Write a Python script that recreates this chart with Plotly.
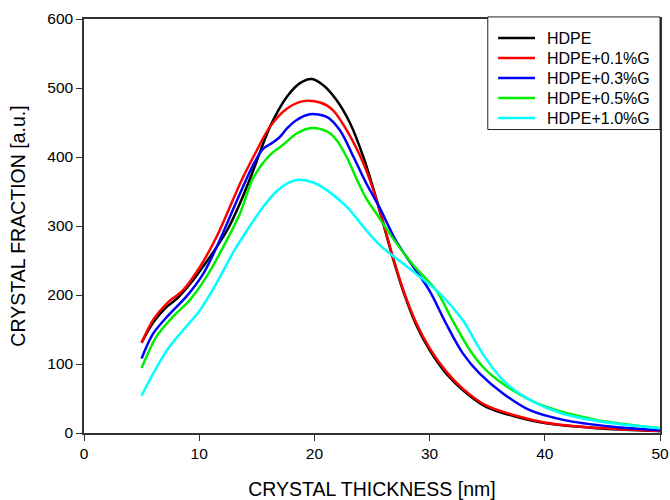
import plotly.graph_objects as go

# Data
hdpe_x = [5, 6.0, 7.0, 8.2, 9.5, 10.5, 11.5, 12.5, 13.54, 14.7, 16.15, 17.6, 18.75, 19.77, 20.77, 21.9, 23.1, 24.25, 25.4, 26.8, 27.7, 28.8, 30.0, 31.45, 32.9, 34.9, 37.5, 40.1, 44.5, 50]
hdpe_y = [131, 160, 180, 197, 222, 245, 269, 296, 333, 381, 444, 487, 507, 513, 504, 483, 449, 400, 338, 254, 206, 158, 120, 86, 62, 38, 23.5, 14, 7, 3]

g01_x = [5, 6.0, 7.2, 8.6, 10.07, 11.5, 12.67, 13.7, 14.7, 16.15, 17.6, 19.04, 20.5, 21.6, 22.8, 24.25, 25.4, 26.8, 27.7, 28.8, 30.0, 31.45, 32.9, 34.9, 37.5, 40.1, 44.5, 50]
g01_y = [131, 164, 188, 207, 241, 284, 328, 367, 400, 444, 470, 481, 479, 468, 439, 391, 338, 256, 208, 161, 123, 89, 64, 40, 25, 15, 7.5, 3]

g03_x = [5, 6.0, 7.46, 8.9, 10.36, 11.8, 13.25, 14.7, 15.56, 16.4, 17.0, 17.6, 18.4, 19.6, 21.07, 22.2, 23.4, 24.5, 25.65, 27.1, 28.5, 30.0, 31.45, 32.9, 34.35, 36.4, 38.7, 41.6, 45.9, 50]
g03_y = [108, 144, 173, 198, 231, 280, 336, 389, 412, 421, 429, 441, 453, 462, 458, 439, 400, 362, 327, 278, 243, 206, 158, 115, 86, 57, 33, 19, 9, 4]

g05_x = [5, 6.3, 7.75, 9.2, 10.65, 12.1, 13.54, 14.7, 16.15, 17.3, 18.46, 19.77, 21.07, 21.9, 22.8, 23.7, 24.5, 25.5, 26.7, 28.5, 30.6, 32.0, 33.5, 34.9, 37.2, 40.1, 44.5, 50]
g05_y = [94, 140, 169, 193, 227, 270, 318, 370, 403, 418, 434, 442, 437, 425, 400, 367, 340, 315, 285, 245, 206, 163, 120, 91, 62, 38, 19, 7]

g10_x = [5, 6.0, 7.2, 8.6, 10.07, 11.5, 12.96, 14.4, 15.56, 16.7, 17.9, 18.75, 19.9, 21.07, 22.8, 24.5, 25.7, 28.5, 30.9, 32.9, 34.6, 36.4, 38.7, 41.6, 45.9, 50]
g10_y = [54, 86, 120, 149, 178, 217, 262, 300, 328, 350, 364, 367, 363, 352, 328, 294, 272, 235, 202, 163, 115, 76, 48, 28, 14, 7]

names = ["HDPE", "HDPE+0.1%G", "HDPE+0.3%G", "HDPE+0.5%G", "HDPE+1.0%G"]
colors = ["#000000", "#ff0000", "#0000ff", "#00ee00", "#00ffff"]
series = [(hdpe_x, hdpe_y), (g01_x, g01_y), (g03_x, g03_y), (g05_x, g05_y), (g10_x, g10_y)]

x_ticks = [0, 10, 20, 30, 40, 50]
y_ticks = [0, 100, 200, 300, 400, 500, 600]

fig = go.Figure()
for (xs, ys), name, c in zip(series, names, colors):
    fig.add_trace(go.Scatter(x=xs, y=ys, mode="lines", name=name, showlegend=False,
                             line=dict(color=c, width=2.5, shape="spline", smoothing=0.9)))

# Legend box drawn in paper coordinates (top-right, inside the frame)
fig.add_shape(type="rect", xref="paper", yref="paper", x0=0.701, x1=1.0, y0=0.733, y1=1.005,
              line=dict(color="#222222", width=1), fillcolor="white", layer="above")
row_y0 = 0.954
row_step = 0.0483
for i, (name, c) in enumerate(zip(names, colors)):
    yy = row_y0 - i * row_step
    fig.add_shape(type="line", xref="paper", yref="paper", x0=0.719, x1=0.783, y0=yy, y1=yy,
                  line=dict(color=c, width=2.5), layer="above")
    fig.add_annotation(xref="paper", yref="paper", x=0.800, y=yy, text=name, showarrow=False,
                       xanchor="left", yanchor="middle", font=dict(size=16, color="black"))

font_family = "Liberation Sans, Arial, sans-serif"
fig.update_layout(
    width=670, height=500,
    margin=dict(l=84, r=10, t=19, b=67, autoexpand=False),
    paper_bgcolor="white", plot_bgcolor="white",
    font=dict(family=font_family, size=15.5, color="black"),
    showlegend=False,
)
fig.update_xaxes(range=[0, 50], tickvals=x_ticks, ticks="outside", ticklen=6,
                 tickcolor="#333333", showline=True, linecolor="#333333", linewidth=1.5,
                 mirror=True, showgrid=False, zeroline=False, automargin=False,
                 title=dict(text="CRYSTAL THICKNESS [nm]", font=dict(size=19.5), standoff=22))
fig.update_yaxes(range=[0, 600], tickvals=y_ticks, ticks="outside", ticklen=6,
                 tickcolor="#333333", showline=True, linecolor="#333333", linewidth=1.5,
                 mirror=True, showgrid=False, zeroline=False, automargin=False,
                 title=dict(text="CRYSTAL FRACTION [a.u.]", font=dict(size=19.5), standoff=16))

fig.write_html("out.html")
